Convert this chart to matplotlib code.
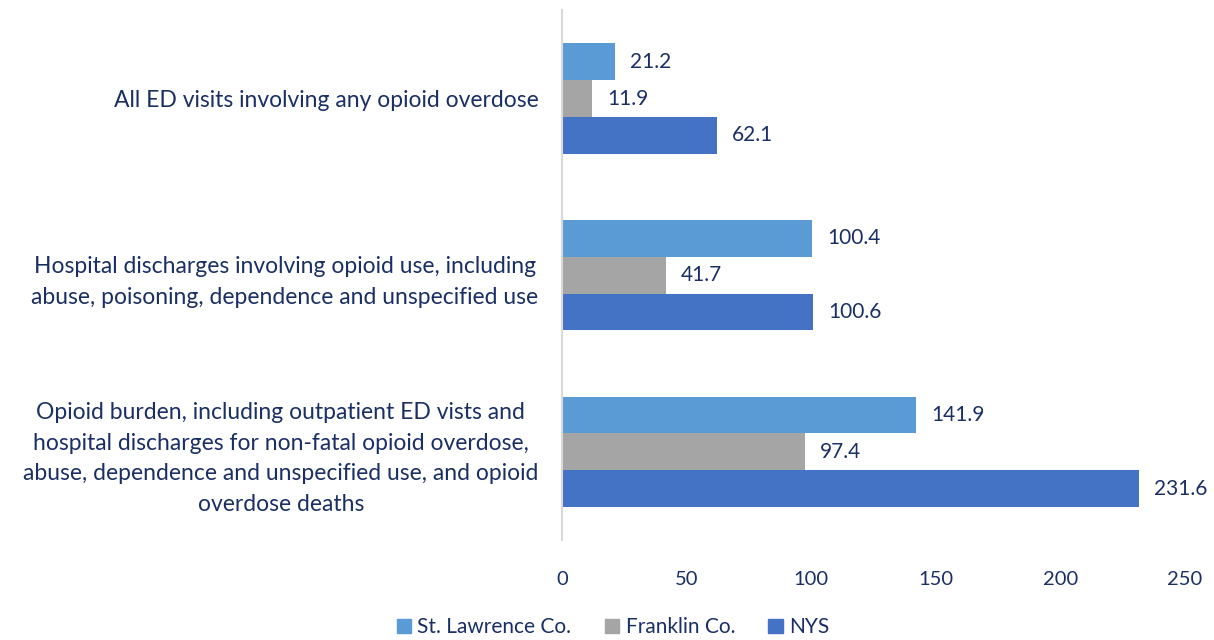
import numpy as np
import matplotlib.pyplot as plt
from matplotlib.patches import Patch

# chart values
categories = [
    'All ED visits involving any opioid overdose',
    'Hospital discharges involving opioid use, including\nabuse, poisoning, dependence and unspecified use',
    'Opioid burden, including outpatient ED vists and\nhospital discharges for non-fatal opioid overdose,\nabuse, dependence and unspecified use, and opioid\noverdose deaths',
]
series_names = ['St. Lawrence Co.', 'Franklin Co.', 'NYS']
st_lawrence = [21.2, 100.4, 141.9]
franklin = [11.9, 41.7, 97.4]
nys = [62.1, 100.6, 231.6]
x_ticks = [0, 50, 100, 150, 200, 250]

colors = ['#5B9BD5', '#A5A5A5', '#4472C4']
text_color = '#1A2F66'

plt.rcParams['font.family'] = ['Lato', 'DejaVu Sans']

fig = plt.figure(figsize=(12.14, 6.4), dpi=100)
ax = fig.add_axes([0.463, 0.156, 0.513, 0.828])

y = np.arange(len(categories))
bar_h = 0.208
all_series = [st_lawrence, franklin, nys]
for i, (vals, col) in enumerate(zip(all_series, colors)):
    pos = y + (i - 1) * bar_h
    ax.barh(pos, vals, height=bar_h, color=col, label=series_names[i])
    for p, v in zip(pos, vals):
        ax.annotate(f'{v:.1f}', xy=(v, p), xytext=(11, 0), textcoords='offset points',
                    ha='left', va='center', fontsize=15, color=text_color)

ax.set_xlim(0, 250)
ax.set_ylim(2.5, -0.5)
ax.set_xticks(x_ticks)
ax.set_xticklabels([str(t) for t in x_ticks], fontsize=14.5, color=text_color)
ax.set_yticks(y)
ax.set_yticklabels(categories, fontsize=16.5, color=text_color,
                   multialignment='center', linespacing=1.55)
ax.tick_params(axis='both', length=0)
ax.tick_params(axis='x', pad=22)
ax.tick_params(axis='y', pad=17)

for s in ['top', 'right', 'bottom']:
    ax.spines[s].set_visible(False)
ax.spines['left'].set_color('#D9D9D9')
ax.spines['left'].set_linewidth(1.5)

handles = [Patch(color=c) for c in colors]
fig.legend(handles, series_names, loc='lower center', bbox_to_anchor=(0.505, -0.025), ncol=3,
           frameon=False, fontsize=15, labelcolor=text_color, handlelength=0.7, handleheight=0.7,
           handletextpad=0.3, columnspacing=1.6)

fig.savefig('out.png', dpi=100)
